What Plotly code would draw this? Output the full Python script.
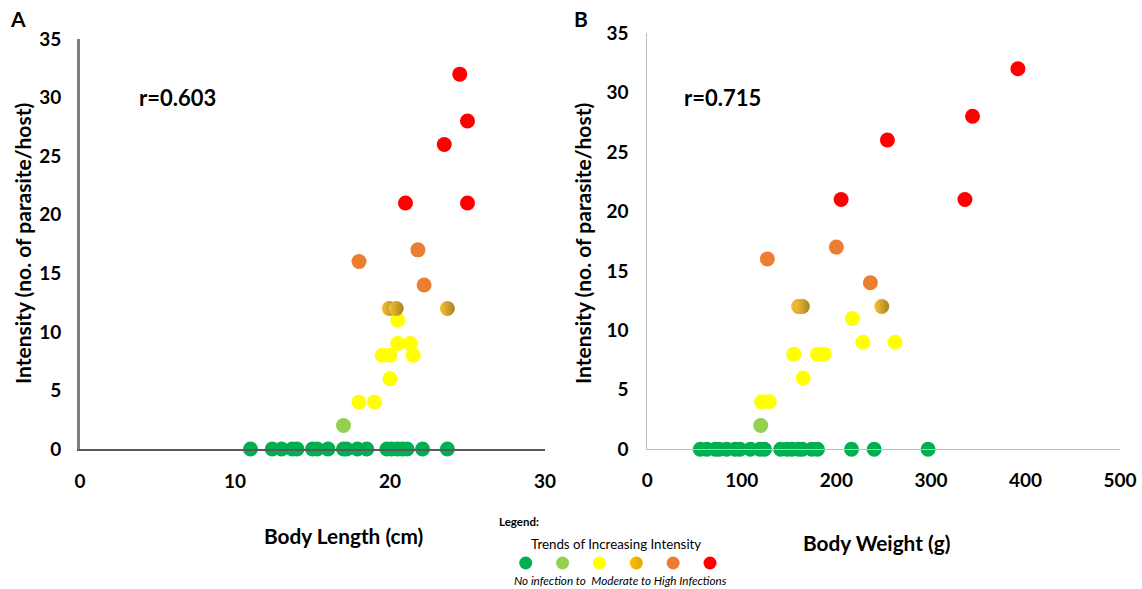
import plotly.graph_objects as go

W, H = 1142, 589

# ---------------- data ----------------
# Panel A: body length (cm) vs intensity
a_green_x = [11.0, 12.4, 13.0, 13.7, 14.0, 15.0, 15.3, 16.0, 17.0, 17.2, 17.9, 18.5, 19.8, 20.1, 20.5, 20.8, 21.1, 22.1, 23.7]
a_green_y = [0] * len(a_green_x)
a_lgreen_x = [17.0]
a_lgreen_y = [2]
a_yellow_x = [18.0, 19.0, 20.0, 19.5, 20.0, 21.5, 20.5, 21.3, 20.5]
a_yellow_y = [4, 4, 6, 8, 8, 8, 9, 9, 11]
a_gold_x = [19.95, 20.4, 23.7]
a_gold_y = [12, 12, 12]
a_orange_x = [18.0, 21.8, 22.2]
a_orange_y = [16, 17, 14]
a_red_x = [24.5, 25.0, 23.5, 21.0, 25.0]
a_red_y = [32, 28, 26, 21, 21]

# Panel B: body weight (g) vs intensity
b_green_x = [56, 63, 72, 76, 84, 93, 98, 109, 119, 124, 141, 148, 153, 160, 164, 174, 180, 216, 240, 297]
b_green_y = [0] * len(b_green_x)
b_lgreen_x = [120]
b_lgreen_y = [2]
b_yellow_x = [121, 129, 165, 155, 180, 187, 228, 262, 217]
b_yellow_y = [4, 4, 6, 8, 8, 8, 9, 9, 11]
b_gold_x = [160, 164, 248]
b_gold_y = [12, 12, 12]
b_orange_x = [127, 200, 236]
b_orange_y = [16, 17, 14]
b_red_x = [205, 254, 336, 344, 392]
b_red_y = [21, 26, 21, 28, 32]

x_ticks_a = [0, 10, 20, 30]
x_ticks_b = [0, 100, 200, 300, 400, 500]
y_ticks = [0, 5, 10, 15, 20, 25, 30, 35]

legend_x = [0, 1, 2, 3, 4, 5]
legend_y = [0.5] * 6

GREEN = "#00B050"
LGREEN = "#92D050"
YELLOW = "#FFFF00"
GOLD = "#F7C236"
GOLD_DARK = "#A8821E"
ORANGE = "#ED7D31"
RED = "#FF0000"

FONT = "Lato, 'Open Sans', sans-serif"

fig = go.Figure()

def add_group(x, y, color, xa, ya, gradient=None, size=15):
    marker = dict(color=color, size=size, line=dict(width=0))
    if gradient:
        marker["gradient"] = dict(type="horizontal", color=gradient)
    fig.add_trace(go.Scatter(x=x, y=y, mode="markers", marker=marker,
                             xaxis=xa, yaxis=ya, showlegend=False,
                             cliponaxis=False, hoverinfo="skip"))

for (x, y, c, g) in [(a_green_x, a_green_y, GREEN, None),
                     (a_lgreen_x, a_lgreen_y, LGREEN, None),
                     (a_yellow_x, a_yellow_y, YELLOW, None),
                     (a_gold_x, a_gold_y, GOLD, GOLD_DARK),
                     (a_orange_x, a_orange_y, ORANGE, None),
                     (a_red_x, a_red_y, RED, None)]:
    add_group(x, y, c, "x", "y", g)

for (x, y, c, g) in [(b_green_x, b_green_y, GREEN, None),
                     (b_lgreen_x, b_lgreen_y, LGREEN, None),
                     (b_yellow_x, b_yellow_y, YELLOW, None),
                     (b_gold_x, b_gold_y, GOLD, GOLD_DARK),
                     (b_orange_x, b_orange_y, ORANGE, None),
                     (b_red_x, b_red_y, RED, None)]:
    add_group(x, y, c, "x2", "y2", g)

# legend swatches
leg_colors = [GREEN, LGREEN, YELLOW, "#FFC000", ORANGE, RED]
for i, c in enumerate(leg_colors):
    add_group([legend_x[i]], [legend_y[i]], c, "x3", "y3",
              gradient=("#E0A800" if i == 3 else None), size=13)

tickfont = dict(family=FONT, size=19, color="#000000", weight="bold")

def px_x(p):
    return p / W

def px_y(p):
    return 1 - p / H

common = dict(showgrid=False, zeroline=False, showline=True, ticks="",
              tickfont=tickfont, automargin=False)

fig.update_layout(
    width=W, height=H, autosize=False,
    margin=dict(l=0, r=0, t=0, b=0, pad=0, autoexpand=False),
    paper_bgcolor="white", plot_bgcolor="white",
    font=dict(family=FONT, color="#000000"),
    xaxis=dict(domain=[px_x(80), px_x(545)], range=[0, 30], tickvals=x_ticks_a,
               linecolor="#595959", linewidth=2, anchor="y", ticklabelstandoff=14, **common),
    yaxis=dict(domain=[px_y(449), px_y(39)], range=[0, 35], tickvals=y_ticks,
               linecolor="#808080", linewidth=3, anchor="x", ticklabelstandoff=12, **common),
    xaxis2=dict(domain=[px_x(647.3), px_x(1120)], range=[0, 500], tickvals=x_ticks_b,
                linecolor="#BFBFBF", linewidth=1, anchor="y2", ticklabelstandoff=14, **common),
    yaxis2=dict(domain=[px_y(449.3), px_y(33)], range=[0, 35], tickvals=y_ticks,
                linecolor="#BFBFBF", linewidth=1, anchor="x2", ticklabelstandoff=14, **common),
    xaxis3=dict(domain=[px_x(525.7), px_x(710)], range=[0, 5], visible=False, anchor="y3",
                automargin=False),
    yaxis3=dict(domain=[0, 52 / H], range=[0, 1], visible=False, anchor="x3",
                automargin=False),
)

def ann(text, x, y, size, weight="bold", style="normal", angle=0, xanchor="center"):
    fig.add_annotation(text=text, x=px_x(x), y=px_y(y), xref="paper", yref="paper",
                       xanchor=xanchor, yanchor="middle", showarrow=False, textangle=angle,
                       font=dict(family=FONT, size=size, color="#000000",
                                 weight=weight, style=style))

ann("A", 18, 19, 21)
ann("B", 581, 19, 21)
ann("r=0.603", 177, 97, 22)
ann("r=0.715", 722, 97, 22)
ann("Intensity (no. of parasite/host)", 22, 244, 21, angle=-90)
ann("Intensity (no. of parasite/host)", 582, 244, 21, angle=-90)
ann("Body Length (cm)", 343, 535, 20.8)
ann("Body Weight (g)", 876, 542, 20.8)
ann("Legend:", 497, 521, 11.5, xanchor="left")
ann("Trends of Increasing Intensity", 616, 544, 13.3, weight="normal")
ann("No infection to  Moderate to High Infections", 620, 580, 11.7, weight="normal", style="italic")

fig.write_html("out.html", config={"responsive": False, "displayModeBar": False},
               post_script="document.body.style.margin='0px';document.body.style.overflow='hidden';")
